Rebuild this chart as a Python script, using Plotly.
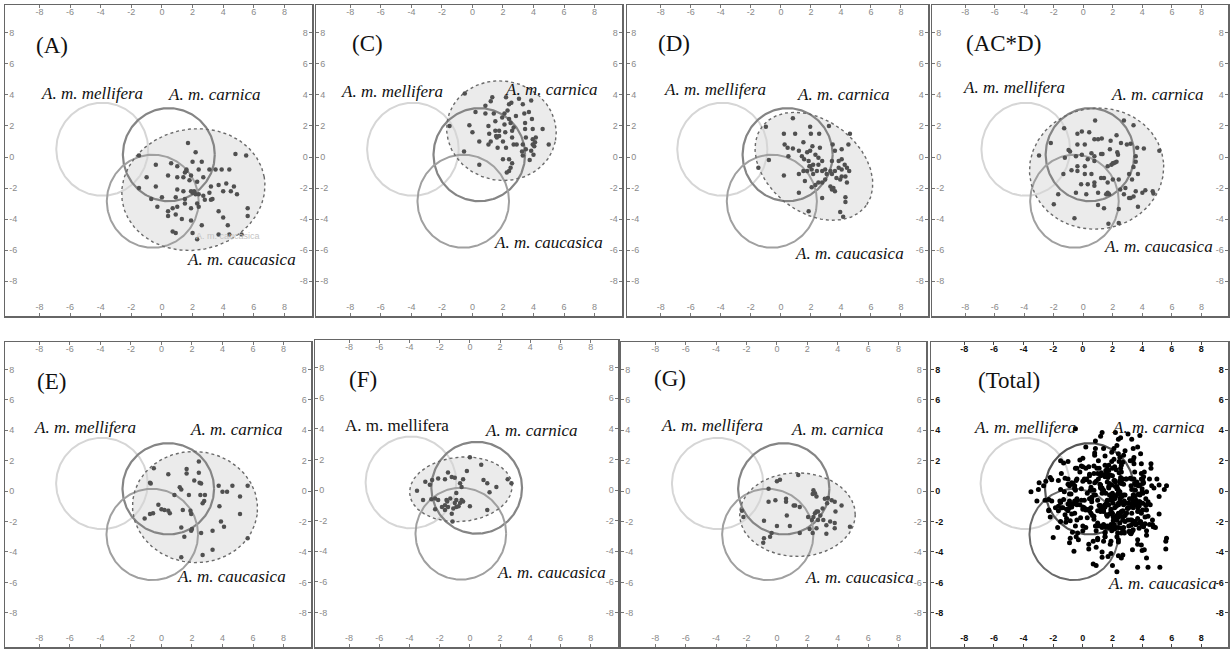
import numpy as np
import plotly.graph_objects as go

# ---------------- data ----------------
panel_names = ["(A)", "(C)", "(D)", "(AC*D)", "(E)", "(F)", "(G)", "(Total)"]
tick_values = [-8, -6, -4, -2, 0, 2, 4, 6, 8]
tick_labels = ["-8", "-6", "-4", "-2", "0", "2", "4", "6", "8"]

# reference subspecies circles: mellifera, carnica, caucasica
species_names = ["A. m. mellifera", "A. m. carnica", "A. m. caucasica"]
ref_cx = [-3.9, 0.45, -0.6]
ref_cy = [0.5, 0.15, -2.85]
ref_r = [3.0, 3.0, 3.0]

# group ellipses (panels A, C, D, AC*D, E, F, G)
ell_cx = [2.05, 1.9, 2.2, 0.9, 2.2, -0.6, 1.35]
ell_cy = [-2.1, 1.7, -0.6, -0.75, -1.05, 0.05, -1.55]
ell_rx = [4.7, 3.6, 4.3, 4.55, 4.1, 3.4, 3.8]
ell_ry = [3.9, 3.2, 3.0, 3.9, 3.65, 2.1, 2.75]
ell_angle = [10, -10, -35, 5, -5, 5, 0]

pts_A = [(1.7,0.9),(-1.5,0.1),(2.2,0.3),(2.0,-0.3),(2.6,-0.3),(-0.4,-0.5),(0.6,-0.4),(1.0,-0.6),(1.6,-0.9),(1.5,-1.0),
         (1.6,-0.8),(1.9,-1.2),(2.4,-0.8),(3.1,-0.8),(3.5,-0.8),(3.9,-0.8),(4.4,-0.8),(4.8,0.2),(5.5,0.1),(-1.0,-1.3),
         (0.4,-1.2),(1.0,-1.3),(1.4,-1.3),(1.8,-1.5),(2.3,-1.6),(2.7,-1.3),(3.2,-1.9),(3.7,-1.8),(4.2,-1.7),(4.7,-1.9),
         (4.5,-2.2),(4.9,-2.4),(-0.4,-1.9),(-1.5,-2.0),(1.0,-2.1),(1.4,-2.2),(1.9,-2.2),(2.0,-2.3),(2.1,-2.2),(2.2,-2.4),
         (2.1,-2.3),(2.4,-2.4),(2.7,-2.5),(3.1,-2.3),(3.3,-2.7),(4.0,-2.2),(-0.7,-2.7),(0.0,-2.6),(0.9,-2.6),(1.5,-2.7),
         (2.3,-3.0),(2.8,-2.75),(3.2,-2.75),(-0.3,-3.2),(0.4,-3.5),(0.7,-3.3),(1.0,-3.2),(1.5,-3.0),(1.9,-3.3),(2.4,-3.2),
         (0.4,-3.8),(0.9,-3.7),(1.3,-4.0),(1.9,-4.1),(3.7,-3.5),(4.0,-3.9),(4.3,-4.4),(5.6,-3.3),(5.6,-3.8),(2.6,-4.4),
         (0.7,-4.8),(0.9,-4.9),(2.0,-4.9),(2.3,-5.3),(3.7,-5.0),(4.4,-5.0),(5.2,-5.0)]

pts_C = [(-0.5,4.1),(-1.5,2.0),(-0.55,0.35),(0.45,-0.5),(-0.2,2.05),(0.0,1.6),(0.2,2.9),(0.45,1.0),(0.85,3.3),(0.85,2.8),
         (1.05,2.0),(1.1,1.5),(1.2,1.0),(1.05,0.8),(1.3,3.85),(1.2,3.6),(1.4,2.8),(1.5,2.3),(1.5,1.7),(1.55,1.35),
         (1.6,1.25),(1.65,0.6),(1.75,1.35),(1.75,1.7),(1.95,2.55),(2.1,2.8),(2.1,2.1),(2.15,1.6),(2.0,1.0),(2.2,0.6),
         (2.3,3.0),(2.2,3.85),(2.4,3.4),(2.55,3.5),(2.4,2.45),(2.5,2.2),(2.6,1.7),(2.6,1.25),(2.7,0.8),(2.0,-0.15),
         (2.4,-0.15),(2.6,-0.4),(2.5,-0.7),(2.4,-0.9),(2.25,-1.0),(2.7,1.9),(2.85,2.65),(2.9,0.8),(3.3,3.4),(3.4,2.8),
         (3.45,2.2),(3.45,1.8),(3.5,1.25),(3.3,0.8),(3.25,0.35),(3.3,0.1),(3.7,2.9),(3.85,3.65),(3.9,2.45),(3.95,1.8),
         (3.95,1.15),(3.95,0.8),(3.85,0.4),(4.0,0.15),(4.15,1.25),(4.1,0.95),(4.05,0.7),(4.6,1.8),(5.0,0.8),(3.5,0.5),
         (3.05,3.75),(3.75,-0.2)]

pts_D = [(-1.0,1.95),(0.8,2.5),(0.2,1.5),(0.95,1.5),(1.95,1.95),(2.0,1.5),(2.55,1.5),(3.2,2.0),(4.6,1.5),(4.5,0.8),
         (4.05,0.5),(0.25,0.8),(0.45,0.6),(0.8,0.55),(0.5,0.05),(1.2,0.4),(1.5,0.95),(1.75,0.3),(1.95,0.4),(2.1,0.7),
         (2.3,0.15),(2.6,0.6),(2.5,-0.05),(1.4,0.05),(1.55,-0.15),(1.85,-0.25),(2.15,-0.5),(1.9,-0.6),(2.5,-0.5),(2.75,-0.25),
         (-1.5,-0.7),(-0.8,-0.2),(0.2,-1.2),(1.2,-1.1),(1.5,-0.9),(1.75,-0.9),(1.95,-0.6),(2.05,-0.8),(2.15,-1.1),(2.4,-0.9),
         (2.75,-0.9),(2.95,-0.8),(3.05,-1.1),(3.3,-0.9),(3.4,-0.25),(3.45,0.8),(3.6,0.4),(3.85,-0.25),(4.05,-0.15),(4.25,-0.5),
         (4.4,-0.7),(4.55,-0.9),(3.85,-0.7),(4.05,-0.8),(3.6,-0.9),(3.4,-1.1),(3.7,-1.35),(3.95,-1.45),(4.05,-1.25),(4.3,-1.25),
         (4.4,-1.65),(2.75,-1.65),(2.5,-1.65),(2.3,-1.8),(2.05,-1.95),(3.3,-1.9),(3.5,-2.0),(3.4,-2.1),(3.6,-2.2),(1.2,-2.3),
         (4.3,-2.6),(4.3,-2.9),(3.95,-3.55),(4.15,-3.85),(1.85,-3.5),(2.95,-1.45),(2.75,-2.65),(1.6,-1.55)]

pts_ACD = [(0.8,2.35),(-1.3,1.85),(2.75,2.35),(3.4,2.05),(-0.4,1.5),(-0.1,1.65),(0.4,1.6),(-2.2,0.9),(-1.0,0.45),(-0.4,0.8),
           (0.1,0.8),(0.75,1.15),(1.0,1.15),(1.25,1.2),(1.85,1.05),(2.25,1.4),(2.55,0.9),(2.95,0.8),(3.2,0.85),(3.65,0.6),
           (4.1,0.55),(5.15,0.4),(-3.0,0.1),(-0.9,0.35),(-0.5,0.05),(-0.1,0.15),(0.55,0.25),(0.75,0.05),(1.2,0.2),(1.3,0.2),
           (1.8,0.5),(2.3,0.3),(2.35,0.15),(3.55,0.05),(3.55,-0.3),(-1.25,-0.05),(-0.8,-0.85),(-0.4,-0.9),(-0.4,-0.6),(0.1,-0.6),
           (0.3,-0.15),(0.75,-0.25),(1.65,-0.6),(2.0,-0.4),(2.25,-0.3),(3.4,-0.65),(0.1,-1.1),(0.55,-1.1),(1.2,-1.35),(1.4,-1.35),
           (0.75,-1.65),(1.65,-1.65),(2.0,-1.45),(2.4,-1.45),(3.1,-1.1),(3.3,-1.45),(3.7,-1.1),(-1.35,-1.1),(-0.15,-1.75),(0.3,-1.75),
           (0.75,-1.85),(1.65,-2.3),(1.75,-2.4),(2.5,-2.1),(2.85,-2.0),(3.55,-2.2),(4.0,-2.3),(4.2,-2.15),(4.7,-2.2),(4.75,-2.35),
           (-1.7,-2.4),(-0.5,-2.3),(0.2,-2.4),(1.0,-2.3),(1.55,-2.4),(3.2,-2.65),(3.4,-2.55),(-2.0,-3.05),(1.0,-3.1),(1.4,-3.3),
           (2.4,-3.35),(3.7,-3.2),(-0.6,-3.95),(1.7,-4.3),(2.4,-4.25),(3.1,-2.65),(2.75,-2.4),(1.9,-0.5),(2.05,-0.4),(2.15,-0.35)]

pts_E = [(-0.5,1.5),(0.45,1.1),(1.65,1.45),(1.65,1.15),(2.45,1.95),(2.45,1.2),(2.15,0.7),(2.5,0.55),(2.6,0.5),(-0.75,0.55),
         (-0.7,0.5),(1.2,0.25),(1.3,0.1),(0.85,-0.25),(1.8,-0.25),(2.55,-0.25),(2.85,-0.25),(2.8,-0.65),(2.7,-0.8),(3.75,0.35),
         (4.0,-0.05),(4.3,-0.05),(4.65,0.35),(5.15,-0.35),(5.65,0.35),(-0.2,-0.9),(0.0,-1.2),(0.2,-1.25),(0.45,-1.3),(0.55,-1.45),
         (-0.55,-1.45),(-0.75,-1.5),(-1.1,-1.8),(1.4,-1.25),(1.9,-1.3),(1.95,-1.5),(3.8,-1.0),(5.15,-1.5),(1.3,-2.4),(1.95,-2.6),
         (2.0,-2.5),(1.5,-3.0),(2.6,-2.75),(3.35,-2.6),(3.9,-2.0),(4.1,-2.35),(1.3,-4.35),(2.7,-4.2),(3.35,-3.85),(5.65,-3.1)]

pts_F = [(0.0,2.15),(0.75,1.65),(-1.45,1.15),(-0.2,1.25),(2.75,0.45),(2.5,0.7),(1.75,0.2),(0.9,0.65),(1.15,0.45),(1.3,-0.15),
         (1.15,-1.3),(-2.95,0.55),(-2.65,0.35),(-2.5,0.65),(-3.5,-0.05),(-2.1,0.75),(-1.65,0.7),(-1.2,0.85),(-1.0,0.8),(-0.65,0.45),
         (-0.55,0.2),(-0.45,0.7),(-0.9,-0.2),(-1.3,-0.55),(-0.9,-0.65),(-0.55,-0.65),(-0.45,-0.75),(-0.65,-0.85),(-0.75,-1.05),(-0.9,-1.1),
         (-1.1,-1.2),(-1.55,-0.65),(-1.65,-1.0),(-1.65,-1.3),(-2.1,-0.65),(-2.3,-0.55),(-2.55,-0.6),(-3.1,-0.65),(-2.3,-1.25),(-1.45,-1.1),
         (-1.2,-1.55),(-1.15,-2.05),(0.0,-1.05),(-1.5,-0.75),(-1.0,-0.85),(-1.85,-1.1)]

pts_G = [(1.4,1.05),(0.0,0.65),(0.2,0.75),(-0.55,0.15),(2.4,0.05),(2.5,-0.15),(2.6,-0.35),(2.35,-0.2),(-0.55,-0.7),(-0.1,-0.6),
         (0.6,-0.5),(0.6,-0.7),(1.1,-0.95),(1.2,-0.95),(1.5,-1.05),(3.15,-0.5),(3.35,-0.45),(3.6,-0.6),(3.8,-0.7),(4.25,-0.95),
         (3.3,-0.8),(3.0,-1.15),(2.7,-1.35),(2.5,-1.45),(2.4,-1.7),(2.6,-1.35),(2.85,-1.6),(2.05,-1.7),(2.7,-1.9),(3.05,-1.9),
         (2.3,-1.9),(3.5,-2.0),(3.25,-2.25),(3.8,-2.1),(3.8,-2.45),(3.85,-1.35),(0.65,-1.6),(-0.85,-1.95),(0.0,-2.3),(0.85,-2.3),
         (1.5,-2.75),(2.15,-2.5),(2.35,-2.75),(2.6,-2.45),(3.25,-2.8),(-0.35,-2.75),(-0.45,-3.0),(-0.85,-3.1),(-0.9,-3.4),(-2.3,-1.3),
         (-2.2,-1.7),(4.8,-2.35)]

group_points = [pts_A, pts_C, pts_D, pts_ACD, pts_E, pts_F, pts_G]
# Total = all groups pooled
pts_Total = [p for g in group_points for p in g]
panel_points = group_points + [pts_Total]

# label positions (data units) per panel
panel_lab_x = [-7.2, -6.9, -7.1, -5.4, -7.2, -7.1, -7.0, -5.0]
panel_lab_y = [7.2, 7.3, 7.3, 7.3, 7.2, 7.2, 7.4, 7.3]
mell_lab_x = [-4.6, -5.3, -4.4, -4.7, -5.0, -4.8, -4.25, -3.9]
mell_lab_y = [4.1, 4.2, 4.35, 4.5, 4.2, 4.2, 4.3, 4.2]
carn_lab_x = [3.4, 5.2, 4.2, 5.0, 4.9, 4.1, 4.0, 5.1]
carn_lab_y = [4.0, 4.35, 4.0, 4.0, 4.05, 3.9, 4.05, 4.2]
cauc_lab_x = [5.2, 5.0, 4.6, 5.1, 4.6, 5.4, 5.4, 5.4]
cauc_lab_y = [-6.6, -5.5, -6.2, -5.8, -5.6, -5.4, -5.7, -6.1]

# ---------------- layout geometry (pixels) ----------------
W, H = 1230, 649
boxes = [(5, 312, 5, 316), (316, 622, 5, 316), (627, 928, 5, 316), (932, 1228, 5, 316),
         (5, 311, 342, 647), (315, 618, 340, 647), (621, 926, 342, 647), (931, 1228, 342, 647)]
AX_RANGE = [-10.25, 9.8]

fig = go.Figure()
theta = np.linspace(0, 2 * np.pi, 240)


def ellipse_xy(cx, cy, rx, ry, ang_deg):
    a = np.deg2rad(ang_deg)
    ex = rx * np.cos(theta)
    ey = ry * np.sin(theta)
    return cx + ex * np.cos(a) - ey * np.sin(a), cy + ex * np.sin(a) + ey * np.cos(a)


layout = dict(width=W, height=H, margin=dict(l=0, r=0, t=0, b=0),
              paper_bgcolor="white", plot_bgcolor="white", showlegend=False)
annotations = []

for i, name in enumerate(panel_names):
    k = i + 1
    total = (name == "(Total)")
    xs = "x" if k == 1 else f"x{k}"
    ys = "y" if k == 1 else f"y{k}"
    x0, x1, y0, y1 = boxes[i]
    xdom = [x0 / W, x1 / W]
    ydom = [1 - y1 / H, 1 - y0 / H]

    tick_col = "#111" if total else "#8a8a8a"
    tfont = dict(family="Arial, Liberation Sans, sans-serif", size=9, color=tick_col,
                 weight="bold" if total else "normal")
    common = dict(range=AX_RANGE, tickmode="array", tickvals=tick_values, ticktext=tick_labels,
                  ticks="inside", ticklen=3, tickwidth=1, tickcolor="#444" if total else "#777",
                  ticklabelposition="inside", tickfont=tfont, showgrid=False, zeroline=False,
                  fixedrange=True)
    layout[f"xaxis{k}"] = dict(domain=xdom, anchor=ys, side="bottom", showline=True, mirror=True,
                               linecolor="#666", linewidth=1.5, **common)
    layout[f"yaxis{k}"] = dict(domain=ydom, anchor=xs, side="left", showline=True, mirror=True,
                               linecolor="#666", linewidth=1.5, **common)
    # overlay axes for labels on top and right
    layout[f"xaxis{k + 8}"] = dict(overlaying=xs, anchor=ys, side="top", showline=False, **common)
    layout[f"yaxis{k + 8}"] = dict(overlaying=ys, anchor=xs, side="right", showline=False, **common)
    fig.add_trace(go.Scatter(x=[None], y=[None], xaxis=f"x{k + 8}", yaxis=f"y{k + 8}",
                             hoverinfo="skip", showlegend=False))

    # group ellipse fill
    if not total:
        ex, ey = ellipse_xy(ell_cx[i], ell_cy[i], ell_rx[i], ell_ry[i], ell_angle[i])
        fig.add_trace(go.Scatter(x=ex, y=ey, mode="lines", fill="toself", fillcolor="#ebebeb",
                                 line=dict(width=0, color="#ebebeb"), xaxis=xs, yaxis=ys,
                                 hoverinfo="skip"))

    # reference circles
    circ_cols = ["#d4d4d4", "#555555", "#6a6a6a"] if total else ["#d6d6d6", "#858585", "#a0a0a0"]
    circ_w = [2, 2.2, 2]
    for j in range(3):
        cx_, cy_ = ellipse_xy(ref_cx[j], ref_cy[j], ref_r[j], ref_r[j], 0)
        fig.add_trace(go.Scatter(x=cx_, y=cy_, mode="lines", line=dict(color=circ_cols[j], width=circ_w[j]),
                                 xaxis=xs, yaxis=ys, hoverinfo="skip"))

    # ellipse outline (dotted)
    if not total:
        fig.add_trace(go.Scatter(x=ex, y=ey, mode="lines", line=dict(color="#6a6a6a", width=1.4, dash="dot"),
                                 xaxis=xs, yaxis=ys, hoverinfo="skip"))

    pts = panel_points[i]
    fig.add_trace(go.Scatter(x=[p[0] for p in pts], y=[p[1] for p in pts], mode="markers",
                             marker=dict(size=5 if total else 4.5, color="#000" if total else "#505050"),
                             xaxis=xs, yaxis=ys, hoverinfo="skip"))

    serif = "Liberation Serif, Times New Roman, serif"
    annotations.append(dict(x=panel_lab_x[i], y=panel_lab_y[i], xref=xs, yref=ys, text=name,
                            showarrow=False, font=dict(family=serif, size=23, color="#111")))
    mell_text = species_names[0] if name == "(F)" else f"<i>{species_names[0]}</i>"
    annotations.append(dict(x=mell_lab_x[i], y=mell_lab_y[i], xref=xs, yref=ys, text=mell_text,
                            showarrow=False, font=dict(family=serif, size=17, color="#111")))
    annotations.append(dict(x=carn_lab_x[i], y=carn_lab_y[i], xref=xs, yref=ys, text=f"<i>{species_names[1]}</i>",
                            showarrow=False, font=dict(family=serif, size=17, color="#111")))
    annotations.append(dict(x=cauc_lab_x[i], y=cauc_lab_y[i], xref=xs, yref=ys, text=f"<i>{species_names[2]}</i>",
                            showarrow=False, font=dict(family=serif, size=17, color="#111")))
    if name == "(A)":
        annotations.append(dict(x=4.3, y=-5.1, xref=xs, yref=ys, text="A. m. caucasica",
                                showarrow=False, font=dict(family="Arial, sans-serif", size=9, color="#c4c4c4")))

layout["annotations"] = annotations
fig.update_layout(**layout)
# remove the browser's default 8px body margin so the figure fills the window exactly
fig.write_html("out.html", config={"staticPlot": True, "displayModeBar": False},
               post_script="document.body.style.margin='0px';document.body.style.overflow='hidden';")
